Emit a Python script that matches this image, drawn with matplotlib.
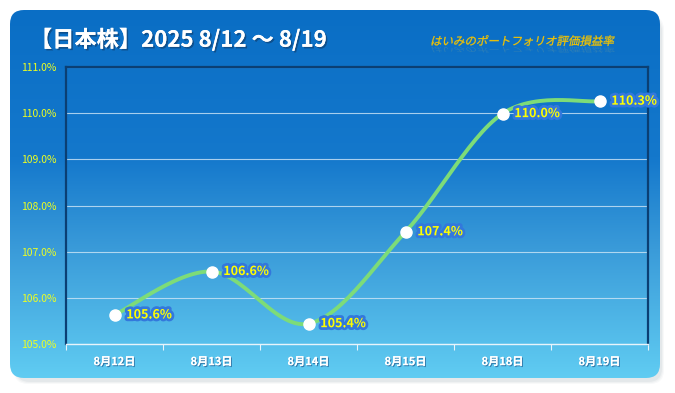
import numpy as np
import matplotlib
matplotlib.use("Agg")
import matplotlib.pyplot as plt
import matplotlib.patheffects as pe
from matplotlib.patches import FancyBboxPatch, PathPatch
from matplotlib.textpath import TextPath
from matplotlib.font_manager import FontProperties
from matplotlib.transforms import Affine2D

plt.rcParams["font.family"] = ["Noto Sans CJK JP", "DejaVu Sans"]

dates = ["8月12日", "8月13日", "8月14日", "8月15日", "8月18日", "8月19日"]
values = [105.63, 106.57, 105.44, 107.43, 109.99, 110.26]
y_ticks = [105.0, 106.0, 107.0, 108.0, 109.0, 110.0, 111.0]
title = "【日本株】2025 8/12 ～ 8/19"
subtitle = "はいみのポートフォリオ評価損益率"


def smooth(x, y, n=30):
    # excel style bezier smoothing between the points
    x = np.asarray(x, float)
    y = np.asarray(y, float)
    px, py = [], []
    for i in range(len(x) - 1):
        x0, y0 = (x[i - 1], y[i - 1]) if i > 0 else (x[i], y[i])
        x3, y3 = (x[i + 2], y[i + 2]) if i + 2 < len(x) else (x[i + 1], y[i + 1])
        c1 = (x[i] + (x[i + 1] - x0) / 6, y[i] + (y[i + 1] - y0) / 6)
        c2 = (x[i + 1] - (x3 - x[i]) / 6, y[i + 1] - (y3 - y[i]) / 6)
        t = np.linspace(0, 1, n)
        bx = (1 - t) ** 3 * x[i] + 3 * (1 - t) ** 2 * t * c1[0] + 3 * (1 - t) * t ** 2 * c2[0] + t ** 3 * x[i + 1]
        by = (1 - t) ** 3 * y[i] + 3 * (1 - t) ** 2 * t * c1[1] + 3 * (1 - t) * t ** 2 * c2[1] + t ** 3 * y[i + 1]
        px.extend(bx)
        py.extend(by)
    return np.array(px), np.array(py)


W, H = 675, 393
fig = plt.figure(figsize=(W / 100, H / 100), dpi=100)

# background card with gradient
bg = fig.add_axes([0, 0, 1, 1])
bg.set_xlim(0, W)
bg.set_ylim(H, 0)
bg.axis("off")
for k, a in enumerate([0.06, 0.08, 0.10]):
    sh = FancyBboxPatch((14 + k, 16 + k), 650 - 2 * k, 368 - 2 * k,
                        boxstyle="round,pad=0,rounding_size=14",
                        fc="#8a9aa8", ec="none", alpha=a, zorder=0)
    bg.add_patch(sh)
card = FancyBboxPatch((10, 10), 650, 368, boxstyle="round,pad=0,rounding_size=14",
                      fc="none", ec="none")
bg.add_patch(card)
grad = np.linspace(0, 1, 256).reshape(-1, 1)
cmap = matplotlib.colors.LinearSegmentedColormap.from_list(
    "bg", [(0, "#0a6ec5"), (0.4, "#1478cc"), (0.65, "#3a9bd9"), (1, "#60ccf2")])
im = bg.imshow(grad, cmap=cmap, extent=(10, 660, 378, 10), aspect="auto", zorder=1)
im.set_clip_path(card)

bg.text(30, 40, title, color="white", fontsize=16, fontweight="bold",
        va="center", ha="left", zorder=3,
        path_effects=[pe.withSimplePatchShadow(offset=(1.2, -1.2), shadow_rgbFace="#103a66", alpha=0.6),
                      pe.Normal()])

# subtitle with faint reflection
fp = FontProperties(family="Noto Sans CJK JP", style="italic")
tp = TextPath((0, 0), subtitle, size=12, prop=fp)
skew = Affine2D().skew_deg(12, 0)
ext = tp.get_extents()
sc = 182 / ext.width
main_tr = skew + Affine2D().scale(sc, -sc).translate(430, 45)
bg.add_patch(PathPatch(main_tr.transform_path(tp), fc="#f5c400", ec="#f5c400", lw=0.2, zorder=3))
refl_tr = skew + Affine2D().scale(sc, sc * 0.6).translate(430, 47)
bg.add_patch(PathPatch(refl_tr.transform_path(tp), fc="#e8d060", ec="none", alpha=0.15, zorder=2))

# plot area
left, right, top, bottom = 66, 648, 67, 344
ax = fig.add_axes([left / W, 1 - bottom / H, (right - left) / W, (bottom - top) / H])
ax.set_facecolor("none")

x = np.arange(len(values))
sx, sy = smooth(x, values)
ax.plot(sx, sy, color="#7ddc78", lw=2.8, solid_capstyle="round", zorder=3)
ax.plot(x, values, "o", ms=8, color="white", mec="white", zorder=4)
for xi, v in zip(x, values):
    ax.annotate(f"{v:.1f}%", (xi, v), xytext=(8.5, 0), textcoords="offset points",
                va="center", ha="left", color="#ffff00", fontsize=9, fontweight="bold",
                path_effects=[pe.withStroke(linewidth=4, foreground="#3378dc")], zorder=5)

ax.set_xlim(-0.5, len(values) - 0.5)
ax.set_ylim(y_ticks[0], y_ticks[-1])
ax.set_yticks(y_ticks)
ax.set_yticklabels([f"{t:.1f}%" for t in y_ticks])
ax.set_xticks(x)
ax.set_xticklabels(dates)
ax.set_xticks(np.arange(-0.5, len(values)), minor=True)
ax.grid(axis="y", color="#cfe6f7", lw=0.8, alpha=0.8)
ax.set_axisbelow(True)

ax.tick_params(axis="y", length=0, pad=7, labelsize=7.5, labelcolor="#eeff20")
ax.tick_params(axis="x", which="major", length=0, pad=8, labelsize=8, labelcolor="white")
ax.tick_params(axis="x", which="minor", length=4, color="#e8f4fb", width=0.8)
for lab in ax.get_xticklabels():
    lab.set_fontweight("bold")
    lab.set_path_effects([pe.withSimplePatchShadow(offset=(0.8, -0.8), shadow_rgbFace="#1a4a80", alpha=0.6),
                          pe.Normal()])
for name in ["top", "right", "left"]:
    ax.spines[name].set_color("#0b3f73")
    ax.spines[name].set_linewidth(1.6)
ax.spines["bottom"].set_color("#e8f4fb")
ax.spines["bottom"].set_linewidth(1.0)

fig.savefig("out.png", dpi=100)
